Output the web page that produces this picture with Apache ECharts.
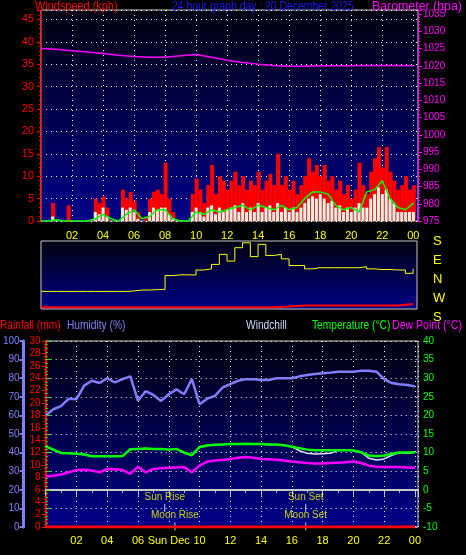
<!DOCTYPE html>
<html><head><meta charset="utf-8">
<script src="https://cdn.jsdelivr.net/npm/echarts@6/dist/echarts.min.js"></script>
<style>html,body{margin:0;padding:0;background:#000}#c{width:466px;height:555px}</style>
</head><body><div id="c"></div>
<script>
// ---- data ----
const windGust = [0,0,0,4, 0,0,0,3.5, 0,0,0,0, 0,0,5,4, 5.5,3,0,0, 0,7,5,6.5, 4.5,2,0,1,
 5,6.5,7,6, 13,5,2,0, 0,0,0,6, 9.5,7,4,8, 12.5,6,10,9, 7,9,11,8, 10,7,9,8,
 11,7,9,10.5, 8,15,8,10, 7,9,6,8, 10,14,11,12.5, 10,12.5,9,10, 7,9,6,8,
 5,7,13,8, 6,11,14,16.5, 12,16.5,11,9, 7,8,10,7, 8];
const windAvg = [0,0,0,1, 0,0,0,0, 0,0,0,0, 0,0,2,1.5, 3,1,0,0, 0,3,2.5,3, 2,0.5,0,0,
 2,3,2.5,3, 3,1.5,0.5,0, 0,0,0,2, 3,2,1,3, 3.5,1.5,3,2, 2.5,3,3.5,2, 4,2,3,2,
 4,2,3,3.5, 2,4,2,3, 2,3,2,3, 4,5,5.5,5, 6,5,4,4.5, 3,3.5,2,3,
 2,3,4,3, 3,5,6,7.5, 6,7,5,4, 2,2,2,2, 2];
const windAvgLine = [0,0,0.3,0,0,0,0,0.5,1.5,0.5,0,1.5,2.5,0.5,1,2.5,2.5,0.5,0,0,2,1.5,2.5,2,2.5,3,3.5,2.5,3.5,3,2.5,3.5,2.5,3,5,6.5,6.5,6,3.5,2.5,3,2,6.5,7,9,5,3,2.5,4];
const baro = [1025.0,1024.8,1024.4,1024.0,1023.6,1023.1,1022.7,1022.5,1022.5,1022.9,1023.3,1022.5,1021.6,1021.0,1020.5,1020.1,1019.9,1019.9,1020.0,1020.0,1020.0,1020.1,1020.1,1020.1,1020.0];
const windDir = [-46,-46,-46,-46,-46,-46,-46,-46,-46,-46,-46,-44,-40,-40,-38,-37,25,28,28,28,50,55,75,120,90,150,172,110,165,115,120,100,70,70,55,60,60,60,60,60,60,65,55,52,52,50,50,35,55];
const dirSpeed = [1,1,1,1,1,1,1,1,1,1,1,1,1,1,1,1,1.5,2,2,2,2,2,2,2,3];
const humidity = [60,63.3,65,69,68.7,76,78.6,77.4,80,77.7,79.5,81,68,73,71,67.8,71.4,74,71.4,79.5,66,69,70.5,75,76.8,78.6,79.5,79.5,79,79,80,80,80,81,81.7,82.2,82.6,83,83.5,83.5,83.5,84,84,83.5,79.5,77.4,76.8,76.3,75.6];
const temperature = [11.7,10.8,9.9,9.8,9.7,9.5,9.0,9.0,9.0,9.0,9.1,10.9,11.0,11.1,11.0,11.0,10.8,11.0,10.0,9.3,11.5,11.9,12.1,12.2,12.3,12.3,12.4,12.3,12.3,12.2,12.2,12.0,11.6,11.2,10.8,10.6,10.6,10.6,10.6,10.6,10.6,10.1,9.2,9.0,9.2,9.7,10.0,10.0,10.1];
const windchill = [11.7,10.8,9.9,9.8,9.7,9.5,9.0,9.0,9.0,9.0,9.1,10.9,11.0,11.1,11.0,11.0,10.8,11.0,10.0,9.3,11.5,11.9,12.1,12.2,12.3,12.3,12.4,12.3,12.3,12.2,12.2,12.0,11.6,10.5,9.8,9.6,9.7,9.8,10.6,10.6,10.6,10.1,8.5,8.0,8.3,9.3,10.0,9.8,10.1];
const dewPoint = [3.6,3.8,4.1,4.7,5.3,5.4,5.2,4.7,5.6,5.5,5.3,4.3,6.2,4.7,5.6,5.8,5.9,6.0,6.1,4.7,6.5,7.6,7.9,8.0,8.3,8.6,8.8,8.6,8.3,8.2,8.1,7.9,7.6,7.4,7.2,7.1,7.1,7.2,7.3,7.4,7.6,7.2,6.5,6.2,6.1,6.1,6.1,6.0,5.9];
const rainfall = [0,0,0,0,0,0,0,0,0,0,0,0,0,0,0,0,0,0,0,0,0,0,0,0,0];
const astro = [{name:'Sun Rise',h:7.74,y:10.3},{name:'Sun Set',h:16.9,y:10.3},{name:'Moon Rise',h:8.4,y:0.3},{name:'Moon Set',h:16.9,y:0.3}];
const dirLabels = ['S','E','N','W','S'];

const step = (arr, s) => arr.map((v,i)=>[i*s, v]);
const F = 'Liberation Sans';
const bg = {type:'linear',x:0,y:0,x2:0,y2:1,colorStops:[{offset:0,color:'#000010'},{offset:1,color:'#000088'}]};
const dotted = {show:true,lineStyle:{color:'#ffffff',type:[1,4],width:1}};
const hourFmt = v => (v===0?'':String(v%24).padStart(2,'0'));
const lab = (c,m) => ({color:c,fontFamily:F,fontSize:10,margin:m,formatter:v=>String(v)});
const txt = (t,x,y,c,size,sx) => ({type:'text',x:x,y:y,scaleX:sx,originX:0,originY:0,style:{text:t,fill:c,font:size+'px '+F}});

const chart = echarts.init(document.getElementById('c'));
chart.setOption({
  backgroundColor:'#000',
  animation:false,
  grid:[
    {left:41,top:10,width:377,height:211,show:true,backgroundColor:bg,borderColor:'#c8c8c8',borderWidth:1},
    {left:41,top:241,width:376,height:68,show:true,backgroundColor:bg,borderColor:'#c8c8c8',borderWidth:1},
    {left:43,top:341,width:375,height:186,show:true,backgroundColor:bg,borderColor:'#c8c8c8',borderWidth:1}
  ],
  xAxis:[
    {gridIndex:0,type:'value',min:0,max:24.3,interval:2,axisLine:{show:false},axisTick:{show:false},
     axisLabel:{color:'#ffff00',fontFamily:F,fontSize:11,margin:9,formatter:hourFmt,showMaxLabel:false},splitLine:dotted},
    {gridIndex:1,type:'value',min:0,max:24.25,show:false},
    {gridIndex:2,type:'value',min:0,max:24.2,interval:2,axisLine:{show:true,lineStyle:{color:'#c8c8c8',width:2}},
     axisTick:{show:true,length:6,lineStyle:{color:'#c8c8c8'}},minorTick:{show:true,splitNumber:2,length:3,lineStyle:{color:'#c8c8c8'}},
     axisLabel:{color:'#ffff00',fontFamily:F,fontSize:11,margin:8,formatter:v=>v===8?'Sun Dec':hourFmt(v),showMaxLabel:false},splitLine:dotted}
  ],
  yAxis:[
    {gridIndex:0,type:'value',min:0,max:47.1,interval:5,position:'left',
     axisLine:{show:true,lineStyle:{color:'#ff0000'}},axisTick:{show:true,length:4,lineStyle:{color:'#ff0000'}},
     minorTick:{show:true,splitNumber:5,length:2,lineStyle:{color:'#ff0000'}},
     axisLabel:Object.assign(lab('#ff0000',7),{fontSize:11,showMaxLabel:false}),splitLine:dotted},
    {gridIndex:0,type:'value',min:975,max:1036.2,interval:5,position:'right',
     axisLine:{show:true,lineStyle:{color:'#ff00ff'}},axisTick:{show:true,length:4,lineStyle:{color:'#ff00ff'}},
     minorTick:{show:true,splitNumber:5,length:2,lineStyle:{color:'#ff00ff'}},
     axisLabel:Object.assign(lab('#ff00ff',5),{showMaxLabel:false}),splitLine:{show:false}},
    {gridIndex:1,type:'value',min:-125,max:180,show:false},
    {gridIndex:1,type:'value',min:0,max:40,show:false},
    {gridIndex:2,type:'value',min:-10,max:40,interval:5,position:'right',
     axisLine:{show:true,lineStyle:{color:'#00ff00',width:2}},axisTick:{show:true,length:5,lineStyle:{color:'#00ff00'}},
     minorTick:{show:true,splitNumber:5,length:2,lineStyle:{color:'#00ff00'}},
     axisLabel:lab('#00ff00',5),splitLine:dotted},
    {gridIndex:2,type:'value',min:0,max:100,interval:10,position:'left',offset:22,
     axisLine:{show:true,lineStyle:{color:'#8080ff',width:3}},axisTick:{show:true,length:4,lineStyle:{color:'#8080ff',width:2}},
     minorTick:{show:true,splitNumber:5,length:2,lineStyle:{color:'#8080ff'}},
     axisLabel:lab('#8080ff',4),splitLine:{show:false}},
    {gridIndex:2,type:'value',min:0,max:30,interval:2,position:'left',
     axisLine:{show:true,lineStyle:{color:'#ff0000',width:2}},axisTick:{show:true,length:4,lineStyle:{color:'#ff0000'}},
     minorTick:{show:true,splitNumber:4,length:2,lineStyle:{color:'#ff0000'}},
     axisLabel:lab('#ff0000',5),splitLine:{show:false}}
  ],
  series:[
    {type:'line',xAxisIndex:0,yAxisIndex:1,data:step(baro,1),symbol:'none',lineStyle:{color:'#ff00ff',width:1.5}},
    {type:'bar',xAxisIndex:0,yAxisIndex:0,data:step(windGust,0.25),barWidth:4,barGap:'-100%',itemStyle:{color:'#ff0000'}},
    {type:'bar',xAxisIndex:0,yAxisIndex:0,data:step(windAvg,0.25),barWidth:3,barGap:'-100%',itemStyle:{color:'#e4f2e4'}},
    {type:'line',xAxisIndex:0,yAxisIndex:0,data:step(windAvgLine,0.5),symbol:'none',lineStyle:{color:'#00ff00',width:1.5}},
    {type:'line',xAxisIndex:1,yAxisIndex:2,data:step(windDir,0.5),step:'end',symbol:'none',lineStyle:{color:'#ffff00',width:1}},
    {type:'line',xAxisIndex:1,yAxisIndex:3,data:step(dirSpeed,1),symbol:'none',lineStyle:{color:'#ff0000',width:2}},
    {type:'line',xAxisIndex:2,yAxisIndex:5,data:step(humidity,0.5),symbol:'none',lineStyle:{color:'#8080ff',width:2.5}},
    {type:'line',xAxisIndex:2,yAxisIndex:4,data:step(windchill,0.5),symbol:'none',lineStyle:{color:'#d8e4ff',width:1.5}},
    {type:'line',xAxisIndex:2,yAxisIndex:4,data:step(temperature,0.5),symbol:'none',lineStyle:{color:'#00ff00',width:2.5}},
    {type:'line',xAxisIndex:2,yAxisIndex:4,data:step(dewPoint,0.5),symbol:'none',lineStyle:{color:'#ff00ff',width:2.5}},
    {type:'line',xAxisIndex:2,yAxisIndex:6,data:step(rainfall,1),symbol:'none',lineStyle:{color:'#ff0000',width:3}},
    {type:'scatter',xAxisIndex:2,yAxisIndex:5,symbol:'rect',symbolSize:[1,8],itemStyle:{color:'#ffffff'},
     data:astro.map(a=>({name:a.name,value:[a.h,a.y]})),
     label:{show:true,position:'top',distance:2,formatter:'{b}',color:'#ffff00',fontFamily:F,fontSize:10}}
  ],
  graphic:[
    txt('Windspeed (kph)',35,0,'#ff0000',13,0.84),
    txt('24 hour graph day : 20 December 2025',172,0,'#1a1aff',13,0.8),
    txt('Barometer (hpa)',372,0,'#ff00ff',13,0.95),
    txt('Rainfall (mm)',0,320,'#ff0000',12,0.85),
    txt('Humidity (%)',67,320,'#8080ff',12,0.85),
    txt('Windchill',246,320,'#c8d8ff',12,0.85),
    txt('Temperature (°C)',312,320,'#00ff00',12,0.85),
    txt('Dew Point (°C)',392,320,'#ff00ff',12,0.88),
    ...dirLabels.map((t,i)=>txt(t,433,235+i*19,'#ffff00',13,1))
  ]
});
</script></body></html>
